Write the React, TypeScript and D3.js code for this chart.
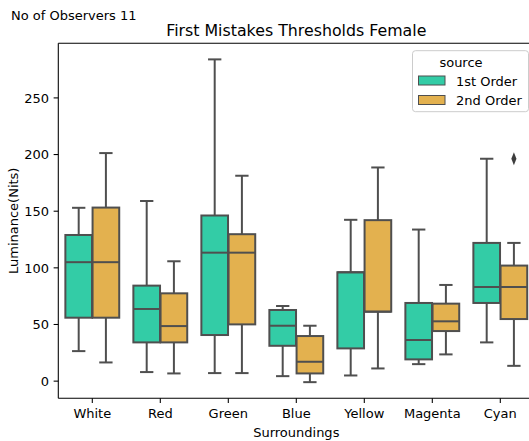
import React from "react";
import * as d3 from "d3";

const categories = ["White", "Red", "Green", "Blue", "Yellow", "Magenta", "Cyan"];
const hues = ["1st Order", "2nd Order"];
const hueColors = ["#33cca6", "#e3b14f"];

// [whiskerLow, q1, median, q3, whiskerHigh]
const firstOrder = [
  [26.5, 56, 105, 129, 153],
  [8, 34.2, 63.7, 84.3, 159],
  [7.1, 40.7, 113.4, 146.2, 284],
  [4.4, 31.2, 48.9, 62.8, 66.3],
  [5, 28.9, 96.1, 96.1, 142.4],
  [15, 19.2, 36.3, 69, 133.8],
  [34.2, 69, 83.1, 122, 196.3],
];
const secondOrder = [
  [16.5, 56, 105, 153.2, 201.3],
  [6.8, 34.2, 48.6, 77.5, 105.8],
  [7.1, 50.1, 113.4, 129.7, 181.3],
  [-0.9, 6.8, 17.1, 39.8, 48.9],
  [11.2, 61.3, 61.3, 142.1, 188.6],
  [23.6, 44.2, 52.8, 68.4, 84.9],
  [13.5, 54.8, 83.1, 102, 122],
];
const outliers = [{ cat: "Cyan", hue: 1, value: 196.3 }];
const yTicks = [0, 50, 100, 150, 200, 250];

const W = 529;
const H = 441;
const left = 58.3;
const right = 534.3;
const top = 43.3;
const bottom = 398.3;
const font = "'DejaVu Sans', sans-serif";
const lineColor = "#4f4f4f";
const fs = 13;

export default function App() {
  const x = d3.scaleLinear().domain([-0.5, categories.length - 0.5]).range([left, right]);
  const y = d3.scaleLinear().domain([-15.15, 298.2]).range([bottom, top]);
  const series = [firstOrder, secondOrder];
  const unit = x(1) - x(0);
  const boxW = 0.4 * 0.98 * unit;
  const capW = boxW * 0.5;
  const lw = 2;

  const diamond = d3.symbol().type(d3.symbolDiamond).size(40)();

  return (
    <svg
      width={W}
      height={H}
      style={{ position: "absolute", left: 0, top: 0, background: "#fff", fontFamily: font }}
    >
      <rect x={0} y={0} width={W} height={H} fill="#fff" />
      {series.map((data, h) =>
        data.map((d, i) => {
          const cx = x(i) + (h - 0.5) * 0.4 * unit;
          const [lo, q1, med, q3, hi] = d;
          return (
            <g key={`${h}-${i}`} stroke={lineColor} strokeWidth={lw}>
              <line x1={cx} x2={cx} y1={y(q1)} y2={y(lo)} />
              <line x1={cx} x2={cx} y1={y(q3)} y2={y(hi)} />
              <line x1={cx - capW / 2} x2={cx + capW / 2} y1={y(lo)} y2={y(lo)} />
              <line x1={cx - capW / 2} x2={cx + capW / 2} y1={y(hi)} y2={y(hi)} />
              <rect
                x={cx - boxW / 2}
                y={y(q3)}
                width={boxW}
                height={y(q1) - y(q3)}
                fill={hueColors[h]}
              />
              <line x1={cx - boxW / 2} x2={cx + boxW / 2} y1={y(med)} y2={y(med)} />
            </g>
          );
        })
      )}
      {outliers.map((o, k) => {
        const i = categories.indexOf(o.cat);
        const cx = x(i) + (o.hue - 0.5) * 0.4 * unit;
        return (
          <path
            key={k}
            d={diamond || ""}
            transform={`translate(${cx},${y(o.value)}) scale(0.75,1.1)`}
            fill="#3d3d3d"
          />
        );
      })}
      <line x1={left} x2={left} y1={top} y2={bottom} stroke="#000" strokeWidth={1.07} />
      <line x1={left} x2={right} y1={bottom} y2={bottom} stroke="#000" strokeWidth={1.07} />
      <line x1={left} x2={right} y1={top} y2={top} stroke="#000" strokeWidth={1.07} />
      {yTicks.map((t) => (
        <g key={t}>
          <line x1={left - 4.67} x2={left} y1={y(t)} y2={y(t)} stroke="#000" strokeWidth={1.07} />
          <text
            x={left - 9.3}
            y={y(t)}
            dy="0.36em"
            textAnchor="end"
            fontSize={fs}
            fill="#000"
          >
            {t}
          </text>
        </g>
      ))}
      {categories.map((c, i) => (
        <g key={c}>
          <line x1={x(i)} x2={x(i)} y1={bottom} y2={bottom + 4.67} stroke="#000" strokeWidth={1.07} />
          <text x={x(i)} y={bottom + 19.5} textAnchor="middle" fontSize={fs} fill="#000">
            {c}
          </text>
        </g>
      ))}
      <text x={(left + right) / 2} y={436.5} textAnchor="middle" fontSize={fs} fill="#000">
        Surroundings
      </text>
      <text
        transform={`translate(17.5,${(top + bottom) / 2}) rotate(-90)`}
        textAnchor="middle"
        fontSize={fs}
        fill="#000"
      >
        Luminance(Nits)
      </text>
      <text x={(left + right) / 2} y={36} textAnchor="middle" fontSize={15.8} fill="#000">
        First Mistakes Thresholds Female
      </text>
      <text x={11} y={19.5} fontSize={fs} fill="#000">
        No of Observers 11
      </text>
      <g>
        <rect
          x={412.5}
          y={50.7}
          width={116}
          height={61}
          rx={3}
          fill="#fff"
          fillOpacity={0.8}
          stroke="#cccccc"
          strokeWidth={1}
        />
        <text x={461} y={66.5} textAnchor="middle" fontSize={fs} fill="#000">
          source
        </text>
        {hues.map((hname, h) => (
          <g key={hname}>
            <rect
              x={418.5}
              y={76 + h * 19.5}
              width={26.5}
              height={9}
              fill={hueColors[h]}
              stroke={lineColor}
              strokeWidth={1}
            />
            <text x={456} y={85.5 + h * 19.5} fontSize={fs} fill="#000">
              {hname}
            </text>
          </g>
        ))}
      </g>
    </svg>
  );
}
